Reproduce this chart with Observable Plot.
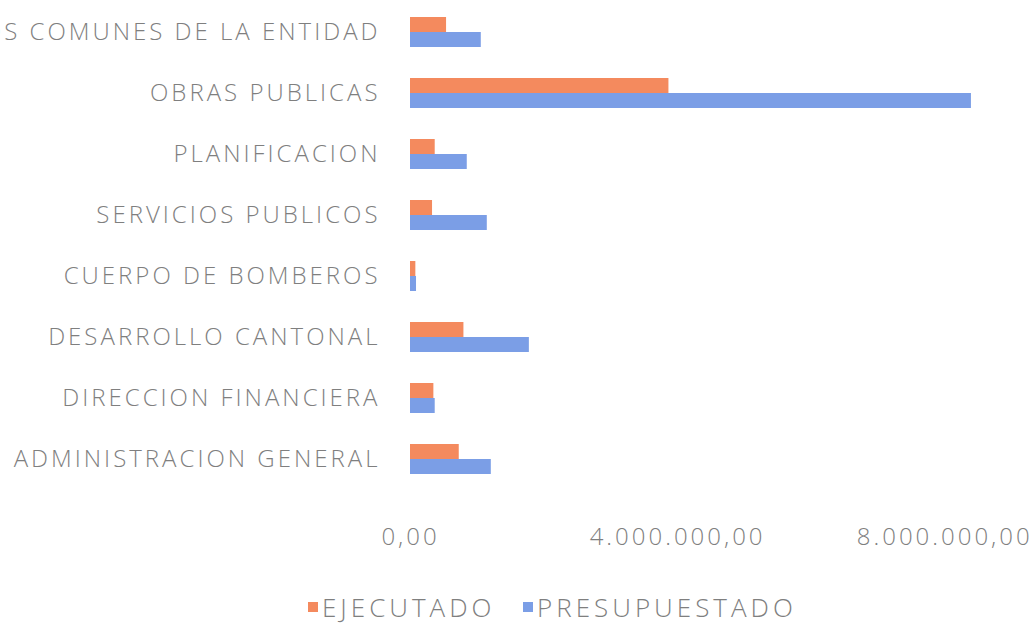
<!DOCTYPE html>
<html>
<head>
<meta charset="utf-8">
<script src="https://cdn.jsdelivr.net/npm/d3@7"></script>
<script src="https://cdn.jsdelivr.net/npm/@observablehq/plot@0.6"></script>
<style>
  html, body { margin: 0; padding: 0; background: white; overflow: hidden; }
  #chart text { letter-spacing: 3px; }
  #legend { position: relative; height: 65px; font-family: "Open Sans", sans-serif; font-weight: 300; font-size: 26px; letter-spacing: 4px; color: #7f7f7f; }
  .item { position: absolute; top: 34px; display: flex; align-items: center; white-space: nowrap; line-height: 30px; }
  .sw { width: 10px; height: 10px; margin-right: 4px; display: inline-block; }
</style>
</head>
<body>
<div id="chart"></div>
<div id="legend"></div>
<script>
const categories = [
  "GASTOS COMUNES DE LA ENTIDAD",
  "OBRAS PUBLICAS",
  "PLANIFICACION",
  "SERVICIOS PUBLICOS",
  "CUERPO DE BOMBEROS",
  "DESARROLLO CANTONAL",
  "DIRECCION FINANCIERA",
  "ADMINISTRACION GENERAL"
];
const series = ["EJECUTADO", "PRESUPUESTADO"];
const ejecutado = [540000, 3870000, 370000, 330000, 80000, 800000, 350000, 730000];
const presupuestado = [1060000, 8400000, 850000, 1150000, 90000, 1780000, 370000, 1210000];
const xTicks = [0, 4000000, 8000000];
const colors = ["#f48a5e", "#7b9ee6"];

const data = [];
categories.forEach((c, i) => {
  data.push({category: c, series: series[0], value: ejecutado[i]});
  data.push({category: c, series: series[1], value: presupuestado[i]});
});

const locale = d3.formatLocale({decimal: ",", thousands: ".", grouping: [3], currency: ["", ""]});
const fmt = locale.format(",.2f");

const chart = Plot.plot({
  width: 1035,
  height: 558,
  marginLeft: 410,
  marginRight: 24,
  marginTop: 1,
  marginBottom: 70,
  style: {fontFamily: "'Open Sans', sans-serif", fontSize: "24px", fontWeight: 300, color: "#7f7f7f", background: "white", overflow: "visible"},
  x: {domain: [0, 9000000], ticks: xTicks, tickFormat: fmt, tickSize: 0, tickPadding: 53, label: null},
  y: {domain: series, axis: null, paddingInner: 0, paddingOuter: 0},
  fy: {domain: categories, paddingInner: 0.5, paddingOuter: 0.2, axis: "left", tickSize: 0, tickPadding: 30, label: null},
  color: {domain: series, range: colors},
  marks: [
    Plot.barX(data, {x: "value", y: "series", fy: "category", fill: "series"})
  ]
});
document.getElementById("chart").appendChild(chart);

const legend = document.getElementById("legend");
const lefts = [308, 523];
series.forEach((s, i) => {
  const item = document.createElement("div");
  item.className = "item";
  item.style.left = lefts[i] + "px";
  const sw = document.createElement("span");
  sw.className = "sw";
  sw.style.background = colors[i];
  const t = document.createElement("span");
  t.textContent = s;
  item.appendChild(sw);
  item.appendChild(t);
  legend.appendChild(item);
});
</script>
</body>
</html>
